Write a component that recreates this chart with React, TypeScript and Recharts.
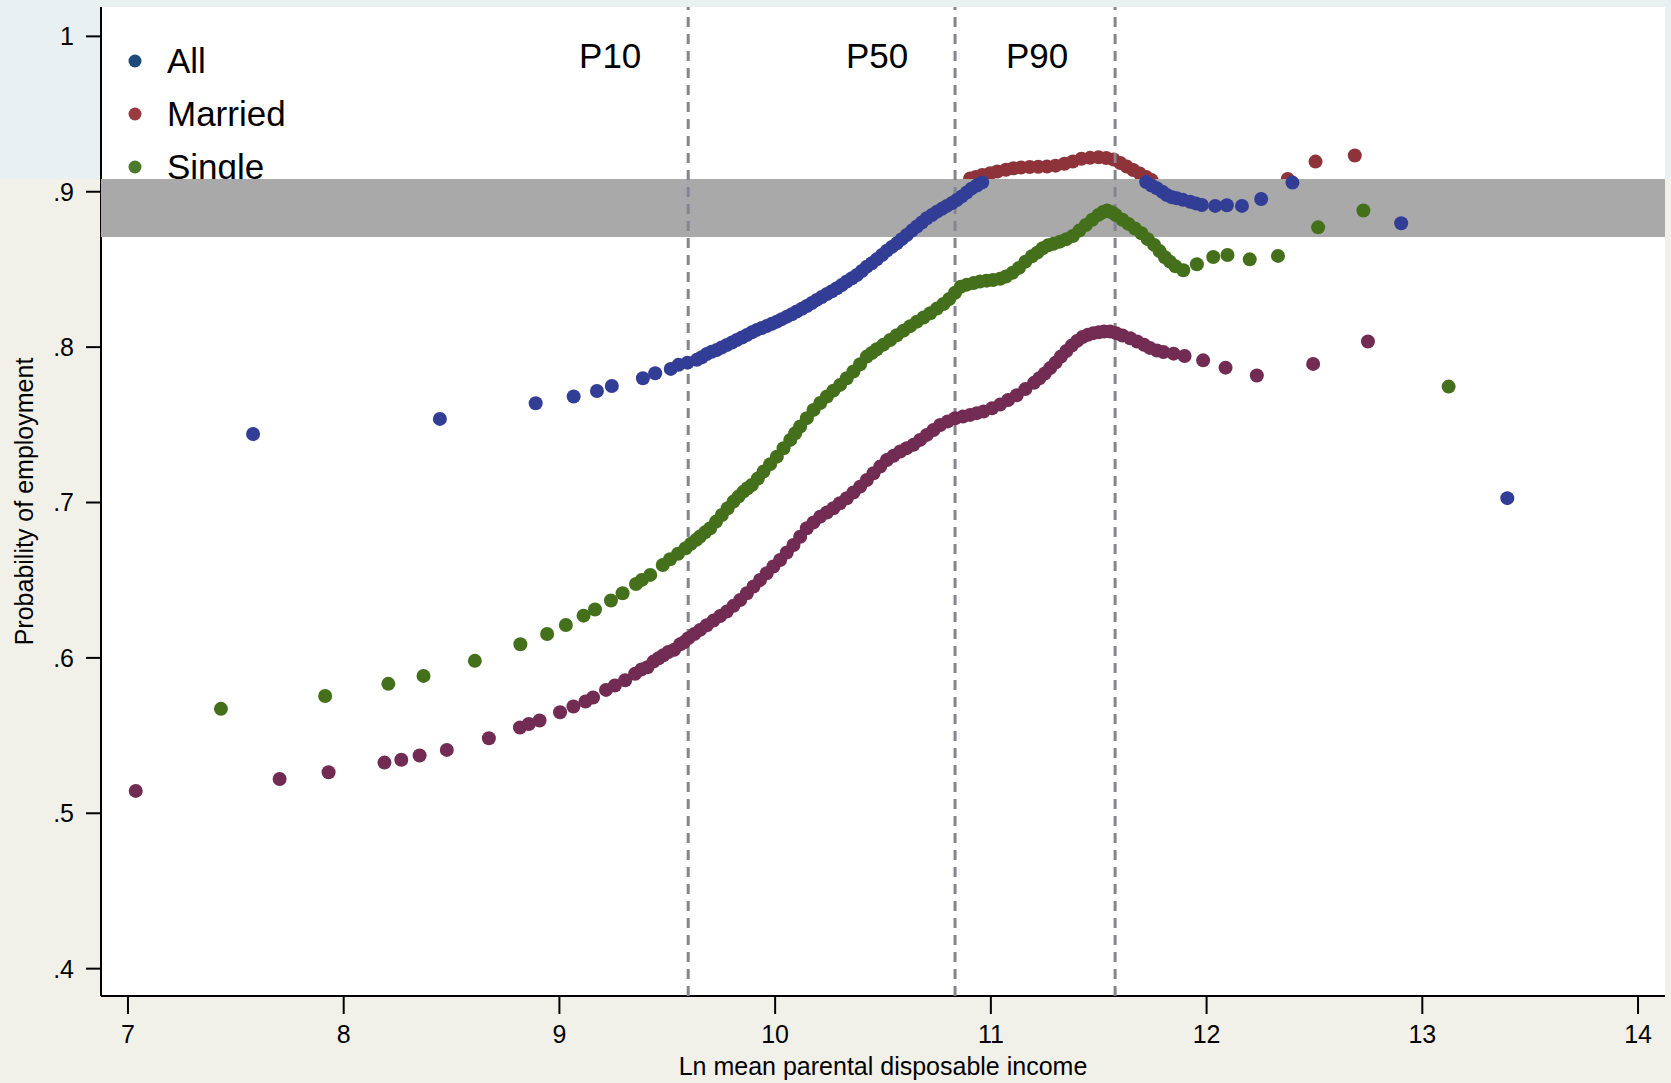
import React from 'react';
import {
  ScatterChart,
  Scatter,
  XAxis,
  YAxis,
  CartesianGrid,
  ReferenceLine,
  ReferenceArea,
  Legend,
  Label,
} from 'recharts';

const W = 1671;
const H = 1083;
const FONT = '"Liberation Sans", Arial, Helvetica, sans-serif';

const X_DOMAIN: [number, number] = [6.875, 14.125];
const Y_DOMAIN: [number, number] = [0.3824, 1.0189];
const xTicks = [7, 8, 9, 10, 11, 12, 13, 14];
const yTicks = [0.4, 0.5, 0.6, 0.7, 0.8, 0.9, 1];
const yTickLabels = ['.4', '.5', '.6', '.7', '.8', '.9', '1'];

const percentileNames = ['P10', 'P50', 'P90'];
const percentileValues = [9.597, 10.834, 11.576];

const bandRange: [number, number] = [0.8709, 0.9082];

const legendNames = ['All', 'Married', 'Single'];
const legendColors = ['#1d4a78', '#9a3a41', '#4b7a2c'];

const xTitle = 'Ln mean parental disposable income';
const yTitle = 'Probability of employment';

// All
const allPoints: number[][] = [
  [7.58, 0.7441], [8.446, 0.7538], [8.89, 0.7639], [9.066, 0.7682], [9.174, 0.7718],
  [9.243, 0.775], [9.387, 0.78], [9.444, 0.7832], [9.516, 0.786], [9.552, 0.7886],
  [9.594, 0.79], [9.637, 0.7918], [9.66, 0.7935], [9.683, 0.7956], [9.706, 0.797],
  [9.729, 0.7982], [9.752, 0.7998], [9.776, 0.8014], [9.8, 0.803], [9.822, 0.8046],
  [9.846, 0.8062], [9.869, 0.8078], [9.892, 0.8095], [9.915, 0.8111], [9.938, 0.8123],
  [9.961, 0.8136], [9.985, 0.815], [10.008, 0.8164], [10.031, 0.818], [10.054, 0.8196],
  [10.077, 0.8212], [10.1, 0.8229], [10.124, 0.8247], [10.147, 0.8265], [10.17, 0.8284],
  [10.193, 0.8304], [10.216, 0.8323], [10.24, 0.8342], [10.263, 0.836], [10.286, 0.8379],
  [10.309, 0.84], [10.332, 0.8422], [10.356, 0.8443], [10.379, 0.8464], [10.402, 0.849],
  [10.425, 0.8518], [10.448, 0.854], [10.471, 0.8565], [10.495, 0.8593], [10.518, 0.8621],
  [10.541, 0.8645], [10.564, 0.8668], [10.587, 0.8695], [10.61, 0.8722], [10.634, 0.875],
  [10.657, 0.8776], [10.68, 0.8802], [10.703, 0.8829], [10.727, 0.885], [10.75, 0.8872],
  [10.773, 0.889], [10.796, 0.8909], [10.82, 0.8928], [10.842, 0.8947], [10.865, 0.897],
  [10.888, 0.8995], [10.91, 0.902], [10.935, 0.904], [10.96, 0.906],
  [11.72, 0.9062], [11.745, 0.904], [11.77, 0.9022], [11.795, 0.9], [11.816, 0.8979],
  [11.84, 0.8965], [11.862, 0.8958], [11.89, 0.8948], [11.924, 0.8936], [11.95, 0.8925],
  [11.978, 0.8915], [12.04, 0.8909], [12.094, 0.8913], [12.164, 0.8909], [12.253, 0.8953],
  [12.398, 0.9059], [12.902, 0.8797], [13.394, 0.7028],
];

// Single
const singlePoints: number[][] = [
  [7.431, 0.5672], [7.914, 0.5755], [8.207, 0.5833], [8.37, 0.5884], [8.608, 0.5981],
  [8.819, 0.6088], [8.943, 0.6154], [9.03, 0.6212], [9.112, 0.6272], [9.165, 0.6311],
  [9.239, 0.6369], [9.293, 0.6416], [9.355, 0.6476], [9.382, 0.6502], [9.421, 0.6534],
  [9.479, 0.6598], [9.513, 0.6635], [9.55, 0.667], [9.585, 0.6706], [9.61, 0.6735],
  [9.635, 0.676], [9.652, 0.6781], [9.675, 0.6808], [9.699, 0.6834], [9.726, 0.6877],
  [9.753, 0.692], [9.78, 0.6963], [9.807, 0.7006], [9.83, 0.7038], [9.853, 0.707],
  [9.872, 0.7092], [9.892, 0.7113], [9.92, 0.7155], [9.946, 0.7199], [9.977, 0.7247],
  [10.008, 0.7295], [10.039, 0.7349], [10.07, 0.7403], [10.093, 0.7446], [10.116, 0.7489],
  [10.147, 0.7543], [10.178, 0.7596], [10.209, 0.764], [10.24, 0.7682], [10.27, 0.772],
  [10.301, 0.7757], [10.332, 0.78], [10.363, 0.7843], [10.394, 0.789], [10.425, 0.7939],
  [10.448, 0.7962], [10.471, 0.7986], [10.502, 0.8016], [10.533, 0.8046], [10.564, 0.8076],
  [10.595, 0.8106], [10.626, 0.8135], [10.657, 0.8164], [10.688, 0.8191], [10.719, 0.8218],
  [10.75, 0.8248], [10.78, 0.8278], [10.807, 0.831], [10.834, 0.835], [10.86, 0.8388],
  [10.888, 0.8402], [10.92, 0.8412], [10.95, 0.8422], [10.98, 0.8428], [11.01, 0.8432],
  [11.043, 0.844], [11.07, 0.8455], [11.1, 0.8478], [11.13, 0.851], [11.16, 0.855],
  [11.19, 0.8585], [11.215, 0.8608], [11.24, 0.8636], [11.265, 0.8655], [11.29, 0.8665],
  [11.32, 0.8679], [11.35, 0.8695], [11.38, 0.8715], [11.41, 0.875], [11.44, 0.8786],
  [11.47, 0.882], [11.499, 0.8851], [11.52, 0.887], [11.539, 0.888], [11.56, 0.8868],
  [11.579, 0.885], [11.61, 0.882], [11.638, 0.8793], [11.668, 0.8763], [11.698, 0.8733],
  [11.727, 0.8695], [11.757, 0.8658], [11.782, 0.8618], [11.807, 0.8578], [11.83, 0.855],
  [11.856, 0.852], [11.892, 0.8495], [11.955, 0.8533], [12.031, 0.858], [12.097, 0.8593],
  [12.2, 0.8565], [12.331, 0.8587], [12.517, 0.8771], [12.727, 0.8879], [13.122, 0.7746],
];

// Married (lower panel)
const marriedPoints: number[][] = [
  [7.036, 0.5144], [7.703, 0.5221], [7.93, 0.5264], [8.189, 0.5326], [8.267, 0.5344],
  [8.352, 0.5372], [8.478, 0.5408], [8.673, 0.5483], [8.817, 0.5552], [8.858, 0.5575],
  [8.908, 0.5597], [9.003, 0.565], [9.065, 0.5687], [9.121, 0.5719], [9.156, 0.5745],
  [9.216, 0.5794], [9.257, 0.5822], [9.305, 0.5856], [9.351, 0.5898], [9.38, 0.5925],
  [9.408, 0.594], [9.436, 0.5976], [9.46, 0.5998], [9.482, 0.6017], [9.505, 0.6038],
  [9.532, 0.6052], [9.56, 0.6088], [9.577, 0.61], [9.598, 0.6127], [9.625, 0.6153],
  [9.652, 0.618], [9.683, 0.621], [9.714, 0.624], [9.745, 0.6269], [9.776, 0.6298],
  [9.807, 0.6335], [9.838, 0.6373], [9.869, 0.6416], [9.9, 0.6459], [9.93, 0.6502],
  [9.961, 0.6545], [9.992, 0.6588], [10.023, 0.663], [10.054, 0.6678], [10.085, 0.6727],
  [10.116, 0.678], [10.147, 0.6834], [10.178, 0.6872], [10.209, 0.6909], [10.24, 0.6936],
  [10.27, 0.6963], [10.3, 0.6995], [10.332, 0.7027], [10.363, 0.7064], [10.394, 0.7102],
  [10.425, 0.7145], [10.456, 0.7188], [10.487, 0.7231], [10.518, 0.7274], [10.549, 0.7301],
  [10.58, 0.7328], [10.61, 0.735], [10.641, 0.7371], [10.672, 0.7403], [10.703, 0.7435],
  [10.734, 0.7467], [10.765, 0.7499], [10.8, 0.7522], [10.834, 0.7542], [10.87, 0.7553],
  [10.904, 0.7564], [10.935, 0.7575], [10.966, 0.7585], [11.005, 0.7606], [11.043, 0.763],
  [11.08, 0.766], [11.12, 0.769], [11.16, 0.773], [11.2, 0.777], [11.225, 0.78],
  [11.25, 0.783], [11.275, 0.7865], [11.3, 0.79], [11.325, 0.794], [11.35, 0.7975],
  [11.375, 0.801], [11.4, 0.804], [11.425, 0.8065], [11.45, 0.808], [11.475, 0.809],
  [11.5, 0.8095], [11.525, 0.81], [11.553, 0.81], [11.58, 0.809], [11.61, 0.8075],
  [11.646, 0.8057], [11.678, 0.8036], [11.71, 0.8015], [11.737, 0.7995], [11.77, 0.7978],
  [11.8, 0.7968], [11.847, 0.7958], [11.898, 0.7943], [11.984, 0.7915], [12.088, 0.7868],
  [12.233, 0.7817], [12.494, 0.7892], [12.748, 0.8036],
];

// Married (upper panel, only visible above the grey band)
const marriedUpperPoints: number[][] = [
  [10.904, 0.9085], [10.93, 0.9095], [10.96, 0.9108], [10.997, 0.9119], [11.03, 0.913],
  [11.07, 0.9142], [11.105, 0.9151], [11.14, 0.9156], [11.18, 0.9159], [11.22, 0.9161],
  [11.26, 0.9162], [11.3, 0.9168], [11.341, 0.918], [11.38, 0.9195], [11.42, 0.9212],
  [11.46, 0.9218], [11.499, 0.9222], [11.535, 0.9217], [11.569, 0.9208], [11.6, 0.9185],
  [11.63, 0.9162], [11.66, 0.914], [11.69, 0.9118], [11.72, 0.9095], [11.745, 0.9075],
  [12.376, 0.9082], [12.505, 0.9194], [12.687, 0.9233],
];

const COLOR_ALL = '#323d96';
const COLOR_SINGLE = '#44701b';
const COLOR_MARRIED = '#722b52';
const COLOR_MARRIED_UPPER = '#8f333a';

const DOT_R = 7;

const toPts = (a: number[][]) => a.map(([x, y]) => ({ x, y }));

const dot = (color: string) => (p: any) =>
  p.cx == null ? <g /> : <circle cx={p.cx} cy={p.cy} r={DOT_R} fill={color} />;

const layerStyle: React.CSSProperties = { position: 'absolute', left: 0, top: 0 };
const hiddenMargin = { top: 7, right: 6, bottom: 87, left: 101 };

const renderYTitle = (props: any) => {
  const vb = props.viewBox || { x: 21, y: 7, width: 80, height: 989 };
  const cx = vb.x + 3;
  const cy = vb.y + vb.height / 2;
  return (
    <text
      x={cx}
      y={cy}
      transform={`rotate(-90 ${cx} ${cy})`}
      textAnchor="middle"
      dominantBaseline="central"
      fontFamily={FONT}
      fontSize={25}
      fill="#000"
    >
      {yTitle}
    </text>
  );
};

const renderXTitle = (props: any) => {
  const vb = props.viewBox || { x: 101, y: 996, width: 1564, height: 60 };
  return (
    <text
      x={vb.x + vb.width / 2}
      y={vb.y + 79}
      textAnchor="middle"
      fontFamily={FONT}
      fontSize={25}
      fill="#000"
    >
      {xTitle}
    </text>
  );
};

const renderLegend = () => (
  <div style={{ fontFamily: FONT, fontSize: 35, color: '#000' }}>
    {legendNames.map((name, i) => (
      <div key={name} style={{ display: 'flex', alignItems: 'center', height: 53 }}>
        <svg width={14} height={14} style={{ marginRight: 25 }}>
          <circle cx={7} cy={7} r={6.5} fill={legendColors[i]} />
        </svg>
        <span style={{ lineHeight: '53px' }}>{name}</span>
      </div>
    ))}
  </div>
);

const percentileLabel = (name: string) => (props: any) => {
  const vb = props.viewBox || { x: 0, y: 0 };
  return (
    <text x={vb.x - 78} y={68} textAnchor="middle" fontFamily={FONT} fontSize={35} fill="#000">
      {name}
    </text>
  );
};

export default function App() {
  return (
    <div
      style={{
        position: 'absolute',
        left: 0,
        top: 0,
        width: W,
        height: H,
        background: '#f1f1e9',
        overflow: 'hidden',
      }}
    >
      <div style={{ position: 'absolute', left: 0, top: 0, width: W, height: 179, background: '#e8f0f2' }} />

      {/* Layer A: axes, plot background, upper-panel Married curve, legend */}
      <div style={layerStyle}>
        <ScatterChart width={W} height={H} margin={{ top: 7, right: 6, bottom: 27, left: 21 }}>
          <CartesianGrid fill="#ffffff" horizontal={false} vertical={false} stroke="none" />
          <XAxis
            type="number"
            dataKey="x"
            domain={X_DOMAIN}
            ticks={xTicks}
            allowDataOverflow
            height={60}
            tickSize={18}
            tickMargin={11}
            axisLine={{ stroke: '#000', strokeWidth: 2 }}
            tickLine={{ stroke: '#000', strokeWidth: 2 }}
            tick={{ fontFamily: FONT, fontSize: 25, fill: '#000' }}
          >
            <Label content={renderXTitle} />
          </XAxis>
          <YAxis
            type="number"
            dataKey="y"
            domain={Y_DOMAIN}
            ticks={yTicks}
            allowDataOverflow
            width={80}
            tickSize={15}
            tickMargin={12}
            tickFormatter={(v: number) => yTickLabels[yTicks.indexOf(v)] ?? String(v)}
            axisLine={{ stroke: '#000', strokeWidth: 2 }}
            tickLine={{ stroke: '#000', strokeWidth: 2 }}
            tick={{ fontFamily: FONT, fontSize: 25, fill: '#000' }}
          >
            <Label content={renderYTitle} />
          </YAxis>
          <Scatter
            name="Married (upper)"
            data={toPts(marriedUpperPoints)}
            fill={COLOR_MARRIED_UPPER}
            shape={dot(COLOR_MARRIED_UPPER)}
            isAnimationActive={false}
            legendType="none"
          />
          <Legend
            layout="vertical"
            align="center"
            verticalAlign="middle"
            content={renderLegend}
            wrapperStyle={{ left: 128, top: 34, width: 300, height: 160 }}
          />
        </ScatterChart>
      </div>

      {/* Layer B: grey band */}
      <div style={layerStyle}>
        <ScatterChart width={W} height={H} margin={hiddenMargin}>
          <XAxis hide type="number" dataKey="x" domain={X_DOMAIN} allowDataOverflow />
          <YAxis hide type="number" dataKey="y" domain={Y_DOMAIN} allowDataOverflow />
          <ReferenceArea
            x1={X_DOMAIN[0]}
            x2={X_DOMAIN[1]}
            y1={bandRange[0]}
            y2={bandRange[1]}
            fill="#a9a9a9"
            fillOpacity={1}
            stroke="none"
          />
          <Scatter data={[]} isAnimationActive={false} />
        </ScatterChart>
      </div>

      {/* Layer C: main series and percentile lines */}
      <div style={layerStyle}>
        <ScatterChart width={W} height={H} margin={hiddenMargin}>
          <XAxis hide type="number" dataKey="x" domain={X_DOMAIN} allowDataOverflow />
          <YAxis hide type="number" dataKey="y" domain={Y_DOMAIN} allowDataOverflow />
          <Scatter name="Married" data={toPts(marriedPoints)} fill={COLOR_MARRIED} shape={dot(COLOR_MARRIED)} isAnimationActive={false} />
          <Scatter name="Single" data={toPts(singlePoints)} fill={COLOR_SINGLE} shape={dot(COLOR_SINGLE)} isAnimationActive={false} />
          <Scatter name="All" data={toPts(allPoints)} fill={COLOR_ALL} shape={dot(COLOR_ALL)} isAnimationActive={false} />
          {percentileValues.map((v, i) => (
            <ReferenceLine
              key={percentileNames[i]}
              x={v}
              stroke="#85858f"
              strokeWidth={3}
              strokeDasharray="10 7"
              label={percentileLabel(percentileNames[i])}
            />
          ))}
        </ScatterChart>
      </div>
    </div>
  );
}
